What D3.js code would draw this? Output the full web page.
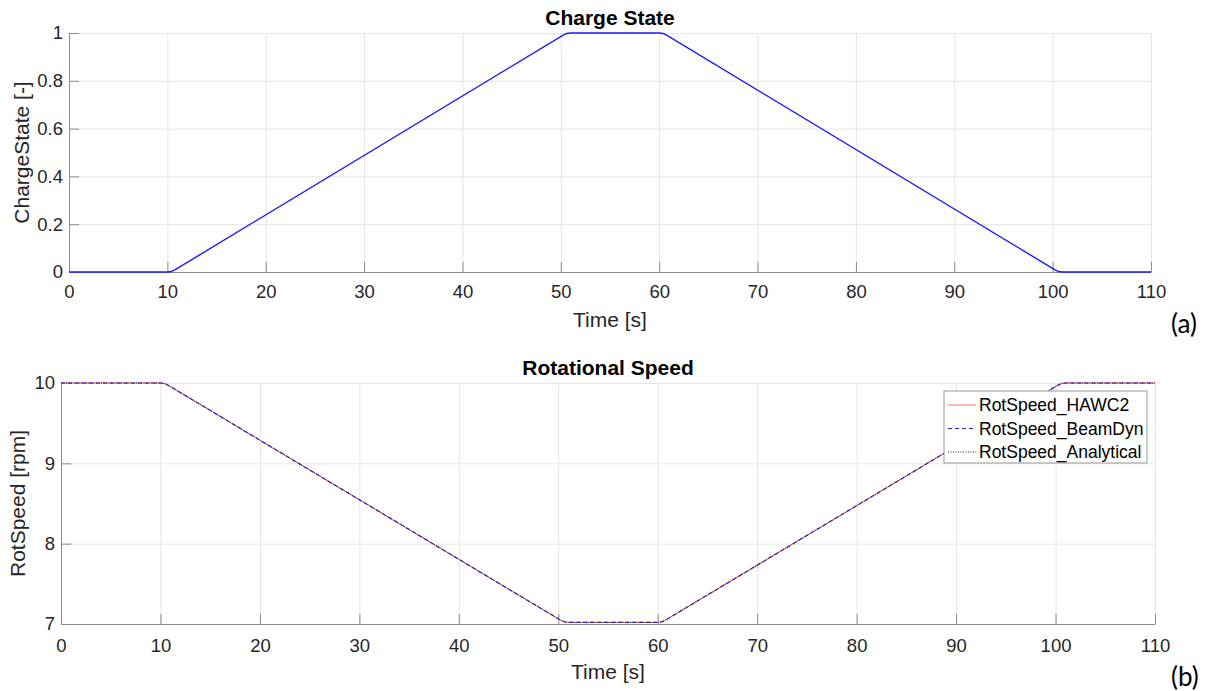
<!DOCTYPE html>
<html>
<head>
<meta charset="utf-8">
<script src="https://cdn.jsdelivr.net/npm/d3@7"></script>
<style>
  body { margin: 0; background: #fff; }
  svg { display: block; font-family: "Liberation Sans", Arial, sans-serif; }
  .grid line { stroke: #e5e5e5; }
  .grid path { display: none; }
  .axis path, .axis line { stroke: #8c8c8c; }
  .axis text { fill: #262626; font-size: 18.5px; }
</style>
</head>
<body>
<div id="chart"></div>
<script>
// time points (s)
const chargeTime  = [0, 10, 10.4, 10.8, 50.2, 50.6, 51, 60, 60.4, 60.8, 100.2, 100.6, 101, 110];
const chargeState = [0, 0, 0.002, 0.01, 0.99, 0.998, 1, 1, 0.998, 0.99, 0.01, 0.002, 0, 0];

const speedTime       = [0, 10, 10.4, 10.8, 50.2, 50.6, 51, 60, 60.4, 60.8, 100.2, 100.6, 101, 110];
const speedHAWC2      = [10, 10, 9.995, 9.97, 7.05, 7.027, 7.02, 7.02, 7.027, 7.05, 9.97, 9.995, 10, 10];
const speedBeamDyn    = [10, 10, 9.995, 9.97, 7.05, 7.027, 7.02, 7.02, 7.027, 7.05, 9.97, 9.995, 10, 10];
const speedAnalytical = [10, 10, 9.995, 9.97, 7.05, 7.027, 7.02, 7.02, 7.027, 7.05, 9.97, 9.995, 10, 10];

const xTicks = [0, 10, 20, 30, 40, 50, 60, 70, 80, 90, 100, 110];
const chargeTicks = [0, 0.2, 0.4, 0.6, 0.8, 1];
const speedTicks = [7, 8, 9, 10];

const legendNames = ['RotSpeed_HAWC2', 'RotSpeed_BeamDyn', 'RotSpeed_Analytical'];

const width = 1208, height = 691;
const svg = d3.select('#chart').append('svg')
  .attr('width', width).attr('height', height);

function drawPanel(opts) {
  const { left, right, top, bottom, yDomain, yTicks, yFmt, title, ylabel, yLabelX, xTickY, xLabelY, tag, tagY } = opts;
  const x = d3.scaleLinear().domain([0, 110]).range([left, right]);
  const y = d3.scaleLinear().domain(yDomain).range([bottom, top]);
  const g = svg.append('g');

  // gridlines
  g.append('g').attr('class', 'grid')
    .attr('transform', `translate(0,${top})`)
    .call(d3.axisBottom(x).tickValues(xTicks).tickSize(bottom - top).tickFormat(''));
  g.append('g').attr('class', 'grid')
    .attr('transform', `translate(${right},0)`)
    .call(d3.axisLeft(y).tickValues(yTicks).tickSize(right - left).tickFormat(''));

  // axes with inward ticks
  const xa = g.append('g').attr('class', 'axis')
    .attr('transform', `translate(0,${bottom})`)
    .call(d3.axisBottom(x).tickValues(xTicks).tickSizeInner(-10).tickSizeOuter(0));
  xa.selectAll('text').attr('dy', 0).attr('y', xTickY - bottom);
  const ya = g.append('g').attr('class', 'axis')
    .attr('transform', `translate(${left},0)`)
    .call(d3.axisLeft(y).tickValues(yTicks).tickFormat(yFmt).tickSizeInner(-10).tickSizeOuter(0));
  ya.selectAll('text').attr('x', -6);

  g.append('text').attr('x', (left + right) / 2).attr('y', top - 8)
    .attr('text-anchor', 'middle').attr('font-weight', 'bold').attr('font-size', 21)
    .attr('fill', '#000').text(title);
  g.append('text').attr('x', (left + right) / 2).attr('y', xLabelY)
    .attr('text-anchor', 'middle').attr('font-size', 21).attr('fill', '#262626').text('Time [s]');
  g.append('text')
    .attr('transform', `translate(${yLabelX},${(top + bottom) / 2}) rotate(-90)`)
    .attr('text-anchor', 'middle').attr('font-size', 21).attr('fill', '#262626').text(ylabel);
  svg.append('text').attr('x', 1171).attr('y', tagY)
    .attr('font-family', 'Lato, "Open Sans", sans-serif').attr('font-size', 26)
    .attr('fill', '#000').text(tag);
  return { g, x, y };
}

// (a) Charge state
const pa = drawPanel({
  left: 69, right: 1151, top: 33, bottom: 272,
  yDomain: [0, 1], yTicks: chargeTicks, yFmt: d3.format('~g'),
  title: 'Charge State', ylabel: 'ChargeState [-]', yLabelX: 29,
  xTickY: 298, xLabelY: 327, tag: '(a)', tagY: 333
});
const lineA = d3.line().x((d, i) => pa.x(chargeTime[i])).y(d => pa.y(d));
pa.g.append('path').datum(chargeState)
  .attr('d', lineA).attr('fill', 'none').attr('stroke', '#1a1aff').attr('stroke-width', 1.4);

// (b) Rotational speed
const pb = drawPanel({
  left: 61, right: 1155, top: 383, bottom: 624,
  yDomain: [7, 10], yTicks: speedTicks, yFmt: d3.format('d'),
  title: 'Rotational Speed', ylabel: 'RotSpeed [rpm]', yLabelX: 25,
  xTickY: 652, xLabelY: 679, tag: '(b)', tagY: 686
});
const series = [
  { vals: speedHAWC2, color: '#ff8c8c', dash: null, w: 1.3 },
  { vals: speedBeamDyn, color: '#2222ee', dash: '4,3', w: 1.1 },
  { vals: speedAnalytical, color: '#222', dash: '1,1.5', w: 1 }
];
const lineB = d3.line().x((d, i) => pb.x(speedTime[i])).y(d => pb.y(d));
series.forEach(s => {
  pb.g.append('path').datum(s.vals)
    .attr('d', lineB).attr('fill', 'none').attr('stroke', s.color)
    .attr('stroke-width', s.w).attr('stroke-dasharray', s.dash);
});

// legend
const lg = svg.append('g').attr('transform', 'translate(944,391)');
lg.append('rect').attr('width', 203).attr('height', 72)
  .attr('fill', '#fff').attr('stroke', '#999').attr('stroke-width', 1);
legendNames.forEach((name, i) => {
  const yy = 14 + i * 23.5;
  lg.append('line').attr('x1', 4).attr('x2', 32).attr('y1', yy).attr('y2', yy)
    .attr('stroke', series[i].color).attr('stroke-width', series[i].w)
    .attr('stroke-dasharray', series[i].dash);
  lg.append('text').attr('x', 35).attr('y', yy + 6).attr('font-size', 17.5)
    .attr('fill', '#000').text(name);
});
</script>
</body>
</html>
